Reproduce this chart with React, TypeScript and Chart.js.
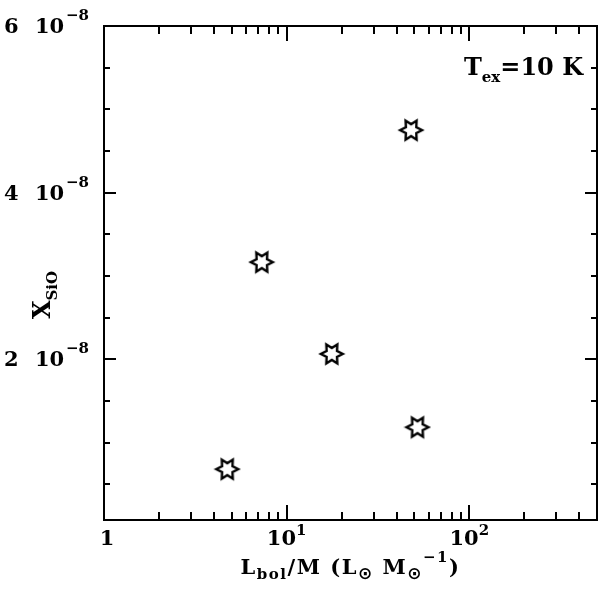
import React, { useEffect, useRef } from "react";
import { Chart, registerables } from "chart.js";
Chart.register(...registerables);

// Data (x: Lbol/M in Lsun/Msun, y: X_SiO in units of 1e-8)
const lbolPerM = [4.73, 7.31, 17.66, 48.0, 52.0];
const xSiO = [0.68, 3.165, 2.064, 4.75, 1.184];

// Axis ranges and ticks
const xRange = [1, 500];
const yRange = [0.07, 6];
const xMajorTicks = [1, 10, 100];
const xMinorTicks = [2, 3, 4, 5, 6, 7, 8, 9, 20, 30, 40, 50, 60, 70, 80, 90, 200, 300, 400, 500];
const yMajorTicks = [2, 4, 6];
const yMinorTicks = [0.5, 1, 1.5, 2.5, 3, 3.5, 4.5, 5, 5.5];
const xTickBases = ["1", "10", "10"];
const xTickExps = ["", "1", "2"];
const yTickMantissas = ["2", "4", "6"];
const yTickExp = "\u22128";

const SERIF = '"DejaVu Serif", "Liberation Serif", serif';
const BIG = `bold 21px ${SERIF}`;
const HUGE = `bold 24px ${SERIF}`;
const SMALL = `bold 15px ${SERIF}`;
const SUN = `bold 17px "DejaVu Sans", ${SERIF}`;

type Seg = { text: string; font: string; dy: number };

function runWidth(ctx: CanvasRenderingContext2D, segs: Seg[]) {
  let w = 0;
  for (const s of segs) {
    ctx.font = s.font;
    w += ctx.measureText(s.text).width;
  }
  return w;
}
function drawRun(ctx: CanvasRenderingContext2D, segs: Seg[], x: number, y: number) {
  let cx = x;
  for (const s of segs) {
    ctx.font = s.font;
    ctx.fillText(s.text, cx, y + s.dy);
    cx += ctx.measureText(s.text).width;
  }
}

function makeStar(): HTMLCanvasElement {
  const c = document.createElement("canvas");
  c.width = 28;
  c.height = 28;
  const g = c.getContext("2d")!;
  const R = 11, r = 6, cx = 14, cy = 14;
  g.beginPath();
  for (let i = 0; i < 12; i++) {
    const a = (i * Math.PI) / 6;
    const rad = i % 2 === 0 ? R : r;
    const px = cx + rad * Math.cos(a);
    const py = cy + rad * Math.sin(a);
    if (i === 0) g.moveTo(px, py);
    else g.lineTo(px, py);
  }
  g.closePath();
  g.fillStyle = "#fff";
  g.fill();
  g.lineWidth = 2.4;
  g.lineJoin = "miter";
  g.strokeStyle = "#000";
  g.stroke();
  return c;
}

const framePlugin = {
  id: "frameTicks",
  beforeDatasetsDraw(chart: any) {
    const ctx: CanvasRenderingContext2D = chart.ctx;
    const { left, right, top, bottom } = chart.chartArea;
    const xs = chart.scales.x;
    const ys = chart.scales.y;
    ctx.save();
    ctx.strokeStyle = "#000";
    ctx.lineWidth = 2;
    ctx.lineCap = "butt";
    ctx.strokeRect(left, top, right - left, bottom - top);
    const tickX = (vals: number[], len: number) => {
      for (const v of vals) {
        const px = Math.round(xs.getPixelForValue(v));
        ctx.beginPath();
        ctx.moveTo(px, bottom);
        ctx.lineTo(px, bottom - len);
        ctx.moveTo(px, top);
        ctx.lineTo(px, top + len);
        ctx.stroke();
      }
    };
    const tickY = (vals: number[], len: number) => {
      for (const v of vals) {
        const py = Math.round(ys.getPixelForValue(v));
        ctx.beginPath();
        ctx.moveTo(left, py);
        ctx.lineTo(left + len, py);
        ctx.moveTo(right, py);
        ctx.lineTo(right - len, py);
        ctx.stroke();
      }
    };
    tickX(xMajorTicks, 15);
    tickX(xMinorTicks, 8);
    tickY(yMajorTicks, 12);
    tickY(yMinorTicks, 6);
    ctx.restore();
  },
  afterDraw(chart: any) {
    const ctx: CanvasRenderingContext2D = chart.ctx;
    const { left, right, top, bottom } = chart.chartArea;
    const xs = chart.scales.x;
    const ys = chart.scales.y;
    ctx.save();
    ctx.fillStyle = "#000";
    ctx.textBaseline = "alphabetic";
    ctx.textAlign = "left";

    // x tick labels
    xMajorTicks.forEach((v, i) => {
      const segs: Seg[] = [{ text: xTickBases[i], font: BIG, dy: 0 }];
      if (xTickExps[i]) segs.push({ text: xTickExps[i], font: SMALL, dy: -10 });
      const w = runWidth(ctx, segs);
      const px = xs.getPixelForValue(v);
      drawRun(ctx, segs, px - w / 2 + (i === 0 ? 3 : 0), bottom + 25);
    });

    // y tick labels
    yMajorTicks.forEach((v, i) => {
      const py = ys.getPixelForValue(v) + 7;
      ctx.font = BIG;
      ctx.fillText(yTickMantissas[i], 4, py);
      ctx.fillText("10", 35, py);
      ctx.font = SMALL;
      ctx.fillText(yTickExp, 66, py - 13);
    });

    // x axis title
    (ctx as any).letterSpacing = "1.5px";
    const xt: Seg[] = [
      { text: "L", font: BIG, dy: 0 },
      { text: "bol", font: SMALL, dy: 5 },
      { text: "/M (L", font: BIG, dy: 0 },
      { text: "\u2299", font: SUN, dy: 5 },
      { text: " M", font: BIG, dy: 0 },
      { text: "\u2299", font: SUN, dy: 5 },
      { text: "\u22121", font: SMALL, dy: -12 },
      { text: ")", font: BIG, dy: 0 },
    ];
    const xtw = runWidth(ctx, xt);
    drawRun(ctx, xt, (left + right) / 2 - xtw / 2, 574);

    // y axis title (rotated)
    (ctx as any).letterSpacing = "0px";
    const yt: Seg[] = [
      { text: "X", font: HUGE, dy: 0 },
      { text: "SiO", font: SMALL, dy: 7 },
    ];
    const ytw = runWidth(ctx, yt);
    ctx.save();
    ctx.translate(50, 295);
    ctx.rotate(-Math.PI / 2);
    drawRun(ctx, yt, -ytw / 2, 0);
    ctx.restore();

    // annotation
    const an: Seg[] = [
      { text: "T", font: HUGE, dy: 0 },
      { text: "ex", font: SMALL, dy: 7 },
      { text: "=10 K", font: HUGE, dy: 0 },
    ];
    const anw = runWidth(ctx, an);
    drawRun(ctx, an, right - 14 - anw, top + 49);

    ctx.restore();
  },
};

export default function App() {
  const ref = useRef<HTMLCanvasElement | null>(null);
  useEffect(() => {
    if (!ref.current) return;
    const star = makeStar();
    const chart = new Chart(ref.current, {
      type: "scatter",
      data: {
        datasets: [
          {
            data: lbolPerM.map((x, i) => ({ x, y: xSiO[i] })),
            pointStyle: star as any,
            pointRadius: 11,
            showLine: false,
          },
        ],
      },
      options: {
        animation: false,
        responsive: false,
        maintainAspectRatio: false,
        layout: { autoPadding: false, padding: { left: 104, right: 3, top: 26, bottom: 73 } },
        plugins: { legend: { display: false }, tooltip: { enabled: false } },
        scales: {
          x: { type: "logarithmic", min: xRange[0], max: xRange[1], display: false },
          y: { type: "linear", min: yRange[0], max: yRange[1], display: false },
        },
      },
      plugins: [framePlugin],
    });
    return () => chart.destroy();
  }, []);
  return (
    <div style={{ position: "fixed", left: 0, top: 0, width: 600, height: 593, background: "#fff" }}>
      <canvas ref={ref} width={600} height={593} style={{ width: 600, height: 593, display: "block" }} />
    </div>
  );
}
